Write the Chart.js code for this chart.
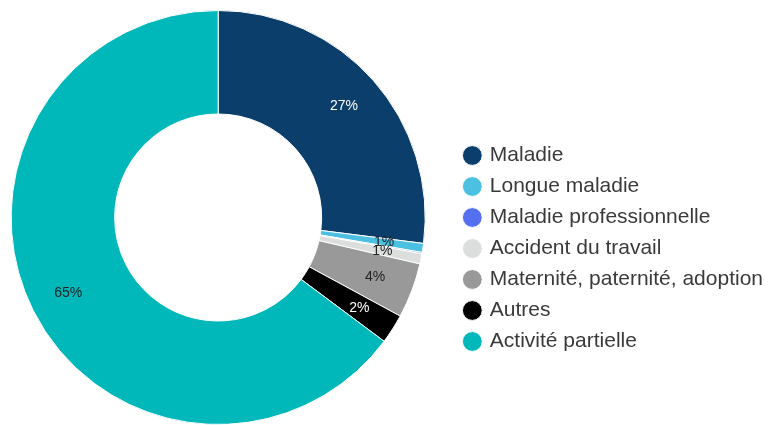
<!DOCTYPE html>
<html>
<head>
<meta charset="utf-8">
<script src="https://cdn.jsdelivr.net/npm/chart.js@4.4.1/dist/chart.umd.min.js"></script>
<style>
  html, body { margin: 0; padding: 0; background: #fff; }
  #wrap { width: 771px; height: 425px; overflow: hidden; }
</style>
</head>
<body>
<div id="wrap"><canvas id="absChart" width="771" height="425"></canvas></div>
<script>
// categories + shares (%)
const categories = [
  'Maladie',
  'Longue maladie',
  'Maladie professionnelle',
  'Accident du travail',
  'Maternité, paternité, adoption',
  'Autres',
  'Activité partielle'
];
const shares = [27.0, 0.7, 0.1, 0.8, 4.3, 2.3, 64.8];
const sliceColors = ['#0b3e6b', '#4cc0e1', '#5470f0', '#dcdddd', '#999999', '#000000', '#00b8ba'];
const labelColors = ['#ffffff', '#222222', '#222222', '#222222', '#222222', '#ffffff', '#222222'];

const fontFamily = "'Liberation Sans', Arial, sans-serif";

// percentage labels inside the ring
const sliceLabels = {
  id: 'sliceLabels',
  afterDatasetsDraw(chart) {
    const ctx = chart.ctx;
    const meta = chart.getDatasetMeta(0);
    const data = chart.data.datasets[0].data;
    const total = data.reduce((a, b) => a + b, 0);
    ctx.save();
    ctx.font = '14px ' + fontFamily;
    ctx.textAlign = 'center';
    ctx.textBaseline = 'middle';
    meta.data.forEach((arc, i) => {
      const pct = Math.round(data[i] / total * 100);
      if (pct < 1) return;
      const p = arc.getProps(['x', 'y', 'startAngle', 'endAngle', 'innerRadius', 'outerRadius'], true);
      const mid = (p.startAngle + p.endAngle) / 2;
      const r = p.innerRadius + (p.outerRadius - p.innerRadius) * 0.62;
      ctx.fillStyle = labelColors[i];
      ctx.fillText(pct + '%', p.x + Math.cos(mid) * r, p.y + Math.sin(mid) * r);
    });
    ctx.restore();
  }
};

// legend sits a bit right of and lower than the default spot
const legendShift = {
  id: 'legendShift',
  afterLayout(chart) {
    const lg = chart.legend;
    lg.left += 29; lg.right += 29;
    lg.top += 31; lg.bottom += 31;
  }
};

new Chart(document.getElementById('absChart'), {
  type: 'doughnut',
  data: {
    labels: categories,
    datasets: [{
      data: shares,
      backgroundColor: sliceColors,
      borderColor: '#ffffff',
      borderWidth: 1
    }]
  },
  options: {
    responsive: false,
    animation: false,
    cutout: '50%',
    layout: { padding: { top: 10, left: 10, right: 27, bottom: 0 } },
    plugins: {
      tooltip: { enabled: false },
      legend: {
        position: 'right',
        labels: {
          usePointStyle: true,
          pointStyle: 'circle',
          boxWidth: 14,
          boxHeight: 14,
          padding: 10,
          color: '#3a3a3a',
          font: { family: fontFamily, size: 21 }
        }
      }
    }
  },
  plugins: [sliceLabels, legendShift]
});
</script>
</body>
</html>
